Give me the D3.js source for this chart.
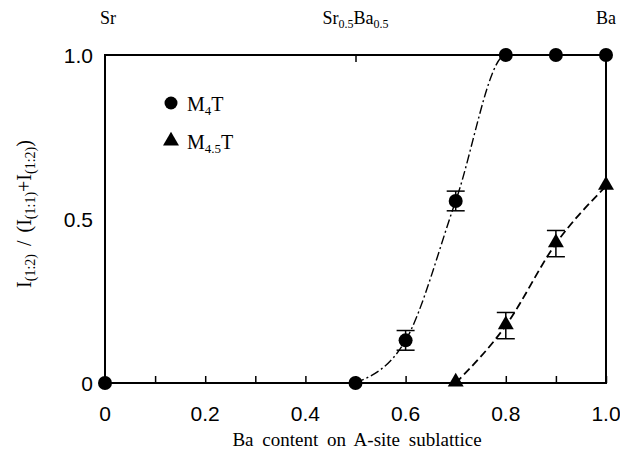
<!DOCTYPE html>
<html><head><meta charset="utf-8">
<script src="https://cdn.jsdelivr.net/npm/d3@7/dist/d3.min.js"></script>
<style>body{margin:0;background:#fff}
.serif{font-family:"Liberation Serif","Tinos","DejaVu Serif",serif}
.sans{font-family:"Liberation Sans","Arimo",Arial,sans-serif}
</style>
</head><body>
<script>
const m4tX = [0, 0.5, 0.6, 0.7, 0.8, 0.9, 1.0];
const m4tY = [0, 0, 0.13, 0.555, 1.0, 1.0, 1.0];
const m4tErr = [0, 0, 0.03, 0.03, 0, 0, 0];
const m45tX = [0.7, 0.8, 0.9, 1.0];
const m45tY = [0, 0.175, 0.425, 0.60];
const m45tErr = [0, 0.04, 0.04, 0];
const xTicks = [0, 0.2, 0.4, 0.6, 0.8, 1.0];
const xMinor = [0.1, 0.3, 0.5, 0.7, 0.9];
const yTicks = [0, 0.5, 1.0];
const topLabels = [{x:0, t:"Sr"}, {x:0.5, t:"Sr0.5Ba0.5"}, {x:1.0, t:"Ba"}];

const W = 620, H = 467;
const svg = d3.select("body").append("svg").attr("width", W).attr("height", H);
const x = d3.scaleLinear().domain([0, 1]).range([105, 606]);
const y = d3.scaleLinear().domain([0, 1]).range([383, 55]);

// frame
svg.append("rect").attr("x", x(0)).attr("y", y(1)).attr("width", x(1)-x(0)).attr("height", y(0)-y(1))
  .attr("fill", "none").attr("stroke", "#000").attr("stroke-width", 2);

// bottom ticks (inward)
const bottomAxis = d3.axisBottom(x).tickValues(xTicks.concat(xMinor).sort()).tickSize(-7).tickFormat("");
svg.append("g").attr("transform", `translate(0,${y(0)})`).call(bottomAxis)
  .call(g => g.select(".domain").remove())
  .call(g => g.selectAll("line").attr("stroke-width", 1.5));
// bottom labels
svg.append("g").selectAll("text").data(xTicks).join("text").attr("class", "sans")
  .attr("x", d => x(d)).attr("y", 421).attr("text-anchor", "middle").attr("font-size", 21)
  .text(d => d === 0 ? "0" : d3.format(".1f")(d));
// top tick at 0.5
const topAxis = d3.axisTop(x).tickValues([0.5]).tickSize(-7).tickFormat("");
svg.append("g").attr("transform", `translate(0,${y(1)})`).call(topAxis)
  .call(g => g.select(".domain").remove())
  .call(g => g.selectAll("line").attr("stroke-width", 1.5));
// y labels
svg.append("g").selectAll("text").data(yTicks).join("text").attr("class", "sans")
  .attr("x", 93).attr("y", d => y(d) + 8).attr("text-anchor", "end").attr("font-size", 21)
  .text(d => d === 0 ? "0" : d3.format(".1f")(d));

// top composition labels
topLabels.forEach(l => {
  const t = svg.append("text").attr("class", "serif").attr("x", x(l.x) + (l.x === 0 ? 3 : 0)).attr("y", 24)
    .attr("text-anchor", "middle").attr("font-size", 18);
  if (l.t === "Sr0.5Ba0.5") {
    t.append("tspan").text("Sr");
    t.append("tspan").attr("font-size", 12).attr("dy", 4).text("0.5");
    t.append("tspan").attr("dy", -4).text("Ba");
    t.append("tspan").attr("font-size", 12).attr("dy", 4).text("0.5");
  } else t.text(l.t);
});

// curves
const m4t = m4tX.map((v, i) => ({x: v, y: m4tY[i], e: m4tErr[i]}));
const m45t = m45tX.map((v, i) => ({x: v, y: m45tY[i], e: m45tErr[i]}));
const line = d3.line().x(d => x(d.x)).y(d => y(d.y)).curve(d3.curveMonotoneX);
svg.append("path").attr("d", line(m4t.filter(d => d.x >= 0.5)))
  .attr("fill", "none").attr("stroke", "#000").attr("stroke-width", 1.4)
  .attr("stroke-dasharray", "9,3,2,3");
svg.append("path").attr("d", line(m45t))
  .attr("fill", "none").attr("stroke", "#000").attr("stroke-width", 1.8)
  .attr("stroke-dasharray", "8,4");

// error bars
function errBars(data) {
  const g = svg.append("g").attr("stroke", "#000").attr("stroke-width", 1.5);
  data.filter(d => d.e > 0).forEach(d => {
    g.append("line").attr("x1", x(d.x)).attr("x2", x(d.x)).attr("y1", y(d.y - d.e)).attr("y2", y(d.y + d.e));
    [d.y - d.e, d.y + d.e].forEach(v => g.append("line").attr("x1", x(d.x) - 9).attr("x2", x(d.x) + 9)
      .attr("y1", y(v)).attr("y2", y(v)));
  });
}
errBars(m4t); errBars(m45t);

// markers
svg.append("g").selectAll("circle").data(m4t).join("circle")
  .attr("cx", d => x(d.x)).attr("cy", d => y(d.y)).attr("r", 7).attr("fill", "#000");
const tri = d3.symbol().type(d3.symbolTriangle).size(110);
svg.append("g").selectAll("path").data(m45t).join("path")
  .attr("transform", d => `translate(${x(d.x)},${y(d.y) - 1})`).attr("d", tri).attr("fill", "#000");

// legend
svg.append("circle").attr("cx", 171).attr("cy", 103).attr("r", 6.5).attr("fill", "#000");
svg.append("path").attr("transform", "translate(171,141)").attr("d", tri).attr("fill", "#000");
const l1 = svg.append("text").attr("class", "serif").attr("x", 187).attr("y", 111).attr("font-size", 20);
l1.append("tspan").text("M");
l1.append("tspan").attr("font-size", 13).attr("dy", 4).text("4");
l1.append("tspan").attr("dy", -4).text("T");
const l2 = svg.append("text").attr("class", "serif").attr("x", 187).attr("y", 149).attr("font-size", 20);
l2.append("tspan").text("M");
l2.append("tspan").attr("font-size", 13).attr("dy", 4).text("4.5");
l2.append("tspan").attr("dy", -4).text("T");

// axis titles
svg.append("text").attr("class", "serif").attr("x", 357).attr("y", 446).attr("text-anchor", "middle")
  .attr("font-size", 19).attr("word-spacing", 4)
  .text("Ba content on A-site sublattice");
const yl = svg.append("text").attr("class", "serif").attr("transform", `translate(31,214) rotate(-90)`)
  .attr("text-anchor", "middle").attr("font-size", 20).attr("word-spacing", 3);
yl.append("tspan").text("I");
yl.append("tspan").attr("font-size", 14).attr("dy", 4).text("(1:2)");
yl.append("tspan").attr("dy", -4).text(" / (I");
yl.append("tspan").attr("font-size", 14).attr("dy", 4).text("(1:1)");
yl.append("tspan").attr("dy", -4).text("+I");
yl.append("tspan").attr("font-size", 14).attr("dy", 4).text("(1:2)");
yl.append("tspan").attr("dy", -4).text(")");
</script>
</body></html>
